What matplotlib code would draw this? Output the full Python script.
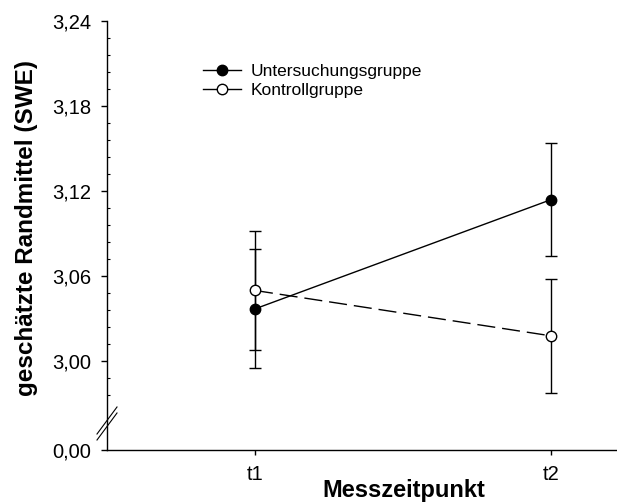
import numpy as np
import matplotlib
matplotlib.use("Agg")
import matplotlib.pyplot as plt
from matplotlib.lines import Line2D
from matplotlib.ticker import FixedLocator, FuncFormatter

plt.rcParams['font.family'] = ['Liberation Sans', 'DejaVu Sans']

# data
zeitpunkte = ['t1', 't2']
x_pos = [1, 2]
unters = [3.037, 3.114]
unters_err = [0.042, 0.040]
kontroll = [3.050, 3.018]
kontroll_err = [0.042, 0.040]

y_major = [0.0, 3.00, 3.06, 3.12, 3.18, 3.24]
y_minor = [2.976, 2.988, 3.012, 3.024, 3.036, 3.048, 3.072, 3.084, 3.096, 3.108,
           3.132, 3.144, 3.156, 3.168, 3.192, 3.204, 3.216, 3.228]

# broken axis: squeeze 0..BRK into a short stretch below the break
BRK = 2.96
LOW = 2.9375


def fwd(y):
    y = np.asarray(y, dtype=float)
    return np.where(y >= BRK, y, LOW + y * (BRK - LOW) / BRK)


def inv(v):
    v = np.asarray(v, dtype=float)
    return np.where(v >= BRK, v, (v - LOW) * BRK / (BRK - LOW))


fig = plt.figure(figsize=(6.17, 5.04), dpi=100)
W, H = 617, 504
ax = fig.add_axes([107 / W, 1 - 450 / H, (616 - 107) / W, (450 - 21) / H])
ax.set_yscale('function', functions=(fwd, inv))
ax.set_ylim(0, 3.24)
ax.set_xlim(0.5, 2.22)

# error bars
ax.errorbar(x_pos, unters, yerr=unters_err, fmt='none', ecolor='black',
            elinewidth=1, capsize=4.5, capthick=1, zorder=2)
ax.errorbar(x_pos, kontroll, yerr=kontroll_err, fmt='none', ecolor='black',
            elinewidth=1, capsize=4.5, capthick=1, zorder=2)

# lines and markers
ax.plot(x_pos, unters, color='black', lw=1, zorder=3)
ax.plot(x_pos, kontroll, color='black', lw=1, dashes=(13, 5), zorder=3)
ax.plot(x_pos, unters, 'o', ms=7.5, mfc='black', mec='black', mew=1, zorder=4)
ax.plot(x_pos, kontroll, 'o', ms=7.5, mfc='white', mec='black', mew=1, zorder=4)

# axes styling
for s in ['top', 'right']:
    ax.spines[s].set_visible(False)
for s in ['left', 'bottom']:
    ax.spines[s].set_linewidth(1)

ax.yaxis.set_major_locator(FixedLocator(y_major))
ax.yaxis.set_minor_locator(FixedLocator(y_minor))
ax.yaxis.set_major_formatter(FuncFormatter(lambda v, p: f"{v:.2f}".replace('.', ',')))
ax.set_xticks(x_pos)
ax.set_xticklabels(zeitpunkte)
ax.tick_params(axis='y', which='major', direction='out', length=4.5, width=1,
               labelsize=14.5, pad=7)
ax.tick_params(axis='y', which='minor', direction='in', length=2, width=0.8)
ax.tick_params(axis='x', which='major', direction='out', length=3.5, width=1,
               labelsize=14.5, pad=7)
ax.tick_params(axis='x', which='minor', bottom=False)

# axis break marks
bx = np.array([-10, 10]) / 509
for off in [0, 6]:
    by = (np.array([16, 43]) - off) / 429
    ax.plot(bx, by, color='black', lw=0.8, transform=ax.transAxes, clip_on=False)

fig.text(27 / W, 1 - 228.5 / H, 'geschätzte Randmittel (SWE)', rotation=90,
         ha='center', va='center', fontsize=17.5, fontweight='bold')
fig.text(404 / W, 1 - 491 / H, 'Messzeitpunkt', ha='center', va='center',
         fontsize=17, fontweight='bold')

handles = [
    Line2D([], [], color='black', lw=1, marker='o', ms=7.5, mfc='black', mec='black'),
    Line2D([], [], color='black', lw=1, marker='o', ms=7.5, mfc='white', mec='black'),
]
ax.legend(handles, ['Untersuchungsgruppe', 'Kontrollgruppe'], loc='upper left',
          bbox_to_anchor=(203 / W, 1 - 64 / H), bbox_transform=fig.transFigure,
          frameon=False, fontsize=12.5, handlelength=2.2, handletextpad=0.55,
          labelspacing=0.22, borderpad=0, borderaxespad=0)

fig.savefig('out.png', dpi=100)
